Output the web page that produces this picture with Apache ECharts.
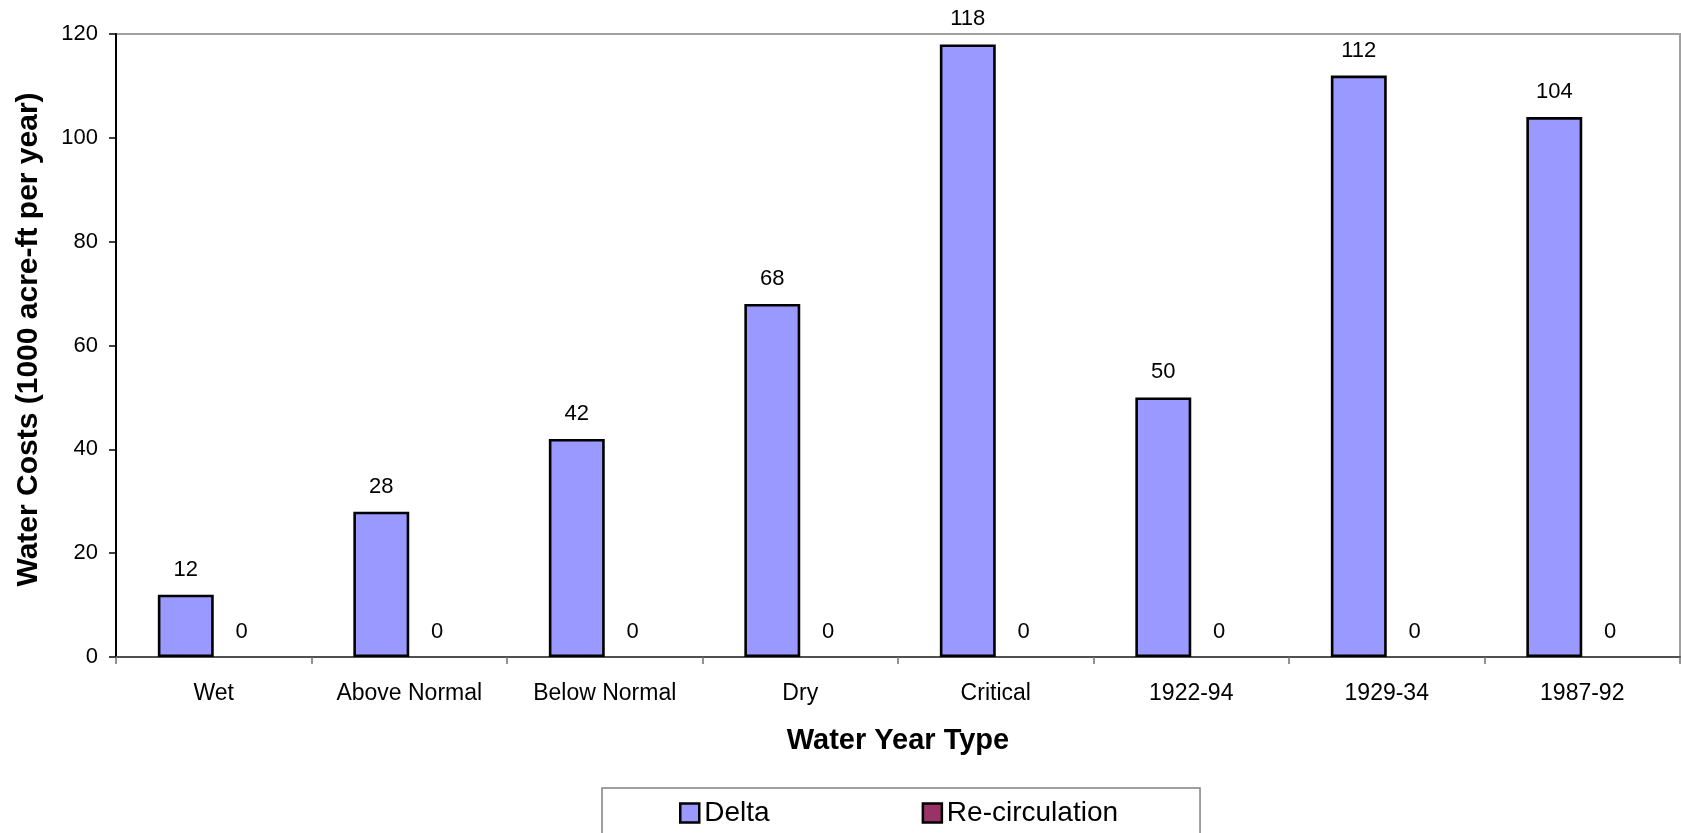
<!DOCTYPE html>
<html>
<head>
<meta charset="utf-8">
<title>Water Costs by Water Year Type</title>
<script src="https://cdn.jsdelivr.net/npm/echarts@6/dist/echarts.min.js"></script>
<style>
  html, body { margin: 0; padding: 0; background: #ffffff; }
  #chart { width: 1681px; height: 833px; }
</style>
</head>
<body>
<div id="chart"></div>
<script>
// Water year types along the x axis
const categories = ['Wet', 'Above Normal', 'Below Normal', 'Dry', 'Critical', '1922-94', '1929-34', '1987-92'];
// Water costs, 1000 acre-ft per year
const deltaValues = [12, 28, 42, 68, 118, 50, 112, 104];
const recirculationValues = [0, 0, 0, 0, 0, 0, 0, 0];
// Y axis range and step
const yMin = 0;
const yMax = 120;
const yStep = 20;

const FONT = '"Liberation Sans", Arial, Helvetica, sans-serif';

const chart = echarts.init(document.getElementById('chart'), null, { renderer: 'canvas' });

const valueLabel = {
  show: true,
  position: 'top',
  distance: 14,
  color: '#000',
  fontFamily: FONT,
  fontSize: 22
};

chart.setOption({
  backgroundColor: '#ffffff',
  animation: false,
  grid: {
    left: 116,
    right: 1,
    top: 34,
    bottom: 176,
    show: true,
    borderColor: '#a0a0a0',
    borderWidth: 2,
    backgroundColor: 'transparent'
  },
  legend: {
    left: 602,
    top: 788,
    orient: 'horizontal',
    padding: [11, 82, 24, 77],
    itemGap: 152,
    itemWidth: 19,
    itemHeight: 19,
    borderColor: '#808080',
    borderWidth: 1.5,
    textStyle: { fontFamily: FONT, fontSize: 28, color: '#000' },
    data: [
      { name: 'Delta', icon: 'rect', itemStyle: { borderColor: '#000', borderWidth: 2.5 } },
      { name: 'Re-circulation', icon: 'rect', itemStyle: { borderColor: '#000', borderWidth: 2.5 } }
    ]
  },
  xAxis: {
    type: 'category',
    data: categories,
    boundaryGap: true,
    name: 'Water Year Type',
    nameLocation: 'middle',
    nameGap: 69,
    nameTextStyle: { fontFamily: FONT, fontSize: 29, fontWeight: 'bold', color: '#000' },
    axisLine: { show: true, lineStyle: { color: '#505050', width: 2 } },
    axisTick: { show: true, inside: false, length: 7, alignWithLabel: false, lineStyle: { color: '#707070', width: 1.5 } },
    axisLabel: { margin: 25, fontFamily: FONT, fontSize: 23, color: '#000', interval: 0 },
    splitLine: { show: false }
  },
  yAxis: {
    type: 'value',
    min: yMin,
    max: yMax,
    interval: yStep,
    name: 'Water Costs (1000 acre-ft per year)',
    nameLocation: 'middle',
    nameGap: 72,
    nameTextStyle: { fontFamily: FONT, fontSize: 30, fontWeight: 'bold', color: '#000', padding: [0, 0, 0, 12] },
    axisLine: { show: true, lineStyle: { color: '#000', width: 2 } },
    axisTick: { show: true, inside: false, length: 7, lineStyle: { color: '#000', width: 1.5 } },
    axisLabel: { margin: 18, fontFamily: FONT, fontSize: 22, color: '#000' },
    splitLine: { show: false }
  },
  series: [
    {
      name: 'Delta',
      type: 'bar',
      data: deltaValues,
      barGap: '0%',
      barCategoryGap: '42.8%',
      itemStyle: { color: '#9999ff', borderColor: '#000', borderWidth: 2.6 },
      label: valueLabel
    },
    {
      name: 'Re-circulation',
      type: 'bar',
      data: recirculationValues,
      barGap: '0%',
      barCategoryGap: '42.8%',
      itemStyle: { color: '#993366', borderColor: '#000', borderWidth: 0 },
      label: valueLabel
    }
  ]
});
</script>
</body>
</html>
